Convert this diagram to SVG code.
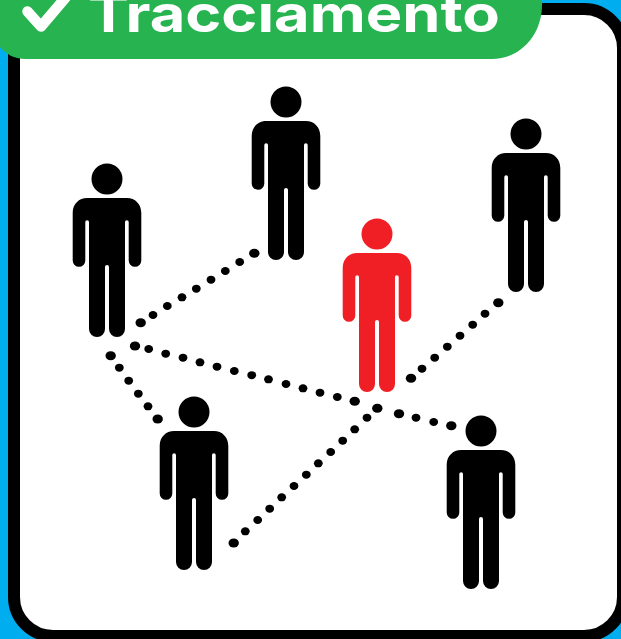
<svg xmlns="http://www.w3.org/2000/svg" width="621" height="639" viewBox="0 0 621 639">
<style>
.title{font-family:"Inter","Liberation Sans",sans-serif;font-weight:700;font-size:52px;fill:#fff}
</style>
<defs>
<ellipse id="d" rx="4.4" ry="4"/>
<ellipse id="e" rx="5.2" ry="4.5"/>
<g id="person">
<circle cx="0" cy="0" r="15.500"/>
<path d="M-20,19H20C28,19 34.300,25 34.300,34V81.500A6.300,6.300 0 0 1 21.700,81.500V43A1.850,1.850 0 0 0 18,43V150A8,8 0 0 1 2,150V88A2,2 0 0 0 -2,88V150A8,8 0 0 1 -18,150V43A1.850,1.850 0 0 0 -21.700,43V81.500A6.300,6.300 0 0 1 -34.300,81.500V34C-34.300,25 -28,19 -20,19Z"/>
</g>
</defs>
<rect id="background" width="621" height="639" fill="#00aeef"/>
<g id="frame"><rect x="14" y="9" width="609" height="627" rx="39" fill="#fff" stroke="#000" stroke-width="12"/></g>
<g id="connectors">
<g id="link-a">
<use href="#e" x="140.700" y="322.700"/><use href="#d" x="153" y="315"/><use href="#d" x="167.300" y="306"/><use href="#d" x="182" y="297.300"/><use href="#d" x="196.300" y="288.700"/><use href="#d" x="211" y="279.700"/><use href="#d" x="225.300" y="271"/><use href="#d" x="239.700" y="262"/><use href="#e" x="254.300" y="253.300"/>
</g>
<g id="link-b">
<use href="#e" x="135" y="346"/><use href="#d" x="148.700" y="349"/><use href="#d" x="165.700" y="353.700"/><use href="#d" x="183" y="357.700"/><use href="#d" x="200" y="362.300"/><use href="#d" x="217" y="366.700"/><use href="#d" x="234.300" y="371"/><use href="#d" x="251.700" y="375.200"/><use href="#d" x="268.500" y="379.300"/><use href="#d" x="286" y="384"/><use href="#d" x="303" y="388.300"/><use href="#d" x="320" y="392.700"/><use href="#d" x="337.300" y="397"/><use href="#e" x="354.700" y="401.300"/>
</g>
<g id="link-c">
<use href="#e" x="399" y="413.700"/><use href="#d" x="416" y="417.700"/><use href="#d" x="433.700" y="422"/><use href="#e" x="451.300" y="425.700"/>
</g>
<g id="link-d">
<use href="#e" x="110.700" y="355.700"/><use href="#d" x="119.300" y="367.700"/><use href="#d" x="128.700" y="380.700"/><use href="#d" x="138.300" y="393.700"/><use href="#d" x="148" y="406.300"/><use href="#e" x="157.700" y="419"/>
</g>
<g id="link-e">
<use href="#e" x="377.300" y="408.300"/><use href="#d" x="367" y="417.700"/><use href="#d" x="354.700" y="429.300"/><use href="#d" x="342.700" y="440.700"/><use href="#d" x="330.700" y="452"/><use href="#d" x="318.300" y="463.300"/><use href="#d" x="306.300" y="474.700"/><use href="#d" x="294" y="486"/><use href="#d" x="281.700" y="497.300"/><use href="#d" x="269.700" y="508.700"/><use href="#d" x="257.700" y="520"/><use href="#d" x="245.300" y="531.300"/><use href="#e" x="233.700" y="543"/>
</g>
<g id="link-f">
<use href="#e" x="411" y="378.300"/><use href="#d" x="422" y="368.700"/><use href="#d" x="434.700" y="357.700"/><use href="#d" x="447.300" y="346.700"/><use href="#d" x="460" y="335.700"/><use href="#d" x="472.700" y="324.700"/><use href="#d" x="485" y="313.700"/><use href="#e" x="498.300" y="302.700"/>
</g>
</g>
<g id="person-1"><use href="#person" x="107" y="179"/></g>
<g id="person-2"><use href="#person" x="286" y="102"/></g>
<g id="person-3"><use href="#person" x="526" y="134"/></g>
<g id="person-red"><use href="#person" x="377" y="234" fill="#f01f26"/></g>
<g id="person-4"><use href="#person" x="194" y="412"/></g>
<g id="person-5"><use href="#person" x="481" y="431"/></g>
<g id="banner">
<path d="M-5,-5H542V5C542,35 520,59 492,59H25C14,59 6,54 0,47Z" fill="#27b34f"/>
<path d="M27.500,11.500L41,26.500L72,-10" fill="none" stroke="#fff" stroke-width="10.500" stroke-linecap="round" stroke-linejoin="round"/>
<text class="title" x="88" y="32" textLength="412" lengthAdjust="spacingAndGlyphs">Tracciamento</text>
</g>
</svg>
